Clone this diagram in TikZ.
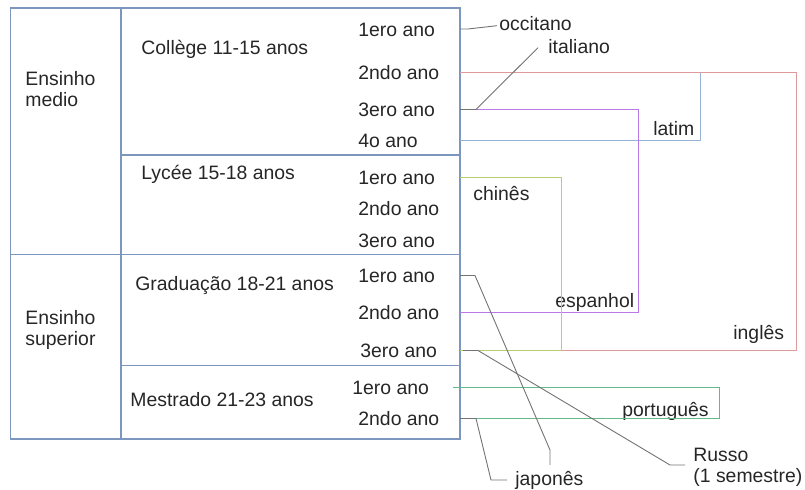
\documentclass[tikz,border=0pt]{standalone}
\usepackage{fontspec}
\setmainfont{Liberation Sans}
\usetikzlibrary{calc}

\definecolor{gridblue}{RGB}{125,150,190}
\definecolor{leadgray}{RGB}{115,115,115}
\definecolor{inglescol}{RGB}{222,155,155}
\definecolor{latimcol}{RGB}{150,178,212}
\definecolor{espanholcol}{RGB}{185,120,232}
\definecolor{chinescol}{RGB}{180,208,110}
\definecolor{portuguescol}{RGB}{100,185,138}

\tikzset{
  txt/.style={font=\fontsize{9.7pt}{10.5pt}\selectfont,text=black!85,inner sep=0pt,
    text height=0.72em,text depth=0pt,anchor=west},
  twoline/.style={font=\fontsize{9.7pt}{10.5pt}\selectfont,text=black!85,inner sep=0pt,
    align=left,anchor=west},
  grid/.style={draw=gridblue,line width=0.6pt},
  lead/.style={draw=leadgray,line width=0.45pt},
  frame/.style={line width=0.6pt},
}

\begin{document}
\begin{tikzpicture}[x=0.5pt,y=-0.5pt]
\useasboundingbox (0,0) rectangle (805,490);

% table
\draw[grid] (10.7,8) rectangle (460,439);
\draw[grid] (121,8) -- (121,439);
\draw[grid] (121,155) -- (460,155);
\draw[grid] (10.7,254.5) -- (460,254.5);
\draw[grid] (121,365.7) -- (460,365.7);
\coordinate (edge) at (460,8);

\node [twoline] (medio) at (25,89.5) {Ensinho\\medio};
\node [twoline] (superior) at (25,329.5) {Ensinho\\superior};

\node [txt] (college) at (141,47) {Collège 11-15 anos};
\node [txt] (lycee) at (141,172) {Lycée 15-18 anos};
\node [txt] (graduacao) at (135,283) {Graduação 18-21 anos};
\node [txt] (mestrado) at (130,399) {Mestrado 21-23 anos};

\node [txt] (c1) at (358,29) {1ero ano};
\node [txt] (c2) at (358,72.5) {2ndo ano};
\node [txt] (c3) at (358,109.5) {3ero ano};
\node [txt] (c4) at (358,140.5) {4o ano};
\node [txt] (l1) at (358,177.5) {1ero ano};
\node [txt] (l2) at (358,208) {2ndo ano};
\node [txt] (l3) at (358,240) {3ero ano};
\node [txt] (g1) at (358,275.5) {1ero ano};
\node [txt] (g2) at (358,312.5) {2ndo ano};
\node [txt] (g3) at (360,350.5) {3ero ano};
\node [txt] (m1) at (352,387.5) {1ero ano};
\node [txt] (m2) at (358,418.5) {2ndo ano};

% languages
\node [txt] (occitano) at (499,23) {occitano};
\node [txt] (italiano) at (548,46) {italiano};
\node [txt] (latim) at (653,128) {latim};
\node [txt] (chines) at (473,193) {chinês};
\node [txt] (espanhol) at (555,300) {espanhol};
\node [txt] (ingles) at (733,332) {inglês};
\node [txt] (portugues) at (622,409) {português};
\node [txt] (japones) at (515,478) {japonês};
\node [twoline] (russo) at (693,467) {Russo\\(1 semestre)};

\coordinate (inglesR) at (796.5,0);
\coordinate (latimR) at (700.5,0);
\coordinate (espanholR) at (638.5,0);
\coordinate (chinesR) at (561.5,0);
\coordinate (portuguesR) at (719.5,0);
\coordinate (jbend) at (550,450);
\coordinate (jend) at (550,465);
\coordinate (jfoot) at (491,480);
\coordinate (rbend) at (670,465);

\begin{scope}[frame]
\draw[latimcol] (c2 -| edge) -- (c2 -| latimR) -- (c4 -| latimR) -- (c4 -| edge);
\draw[inglescol] (c2 -| edge) -- (c2 -| inglesR) -- (g3 -| inglesR) -- (g3 -| edge);
\draw[espanholcol] (c3 -| edge) -- (c3 -| espanholR) -- (g2 -| espanholR) -- (g2 -| edge);
\draw[chinescol] (l1 -| edge) -- (l1 -| chinesR) -- (g3 -| chinesR) -- (g3 -| edge);
\draw[portuguescol] ($(m1 -| edge)+(-7,0)$) -- (m1 -| portuguesR) -- (m2 -| portuguesR) -- (m2 -| edge);
\end{scope}

\begin{scope}[lead]
\draw (c1 -| edge) -- ++(8,0) -- ($(occitano.west)+(-2,2.7)$);
\draw (c3 -| edge) -- ++(16,0) -- ($(italiano.west)+(-10,1.7)$);
\draw (g1 -| edge) -- ++(15,0) -- (jbend) -- (jend);
\draw (m2 -| edge) -- ++(16,0) -- (jfoot) -- ($(japones.west)+(-8,2)$);
\draw ($(g3 -| edge)+(3,0)$) -- ++(15,0) -- (rbend) -- ($(russo.west)+(-8,-2)$);
\end{scope}

\end{tikzpicture}
\end{document}
